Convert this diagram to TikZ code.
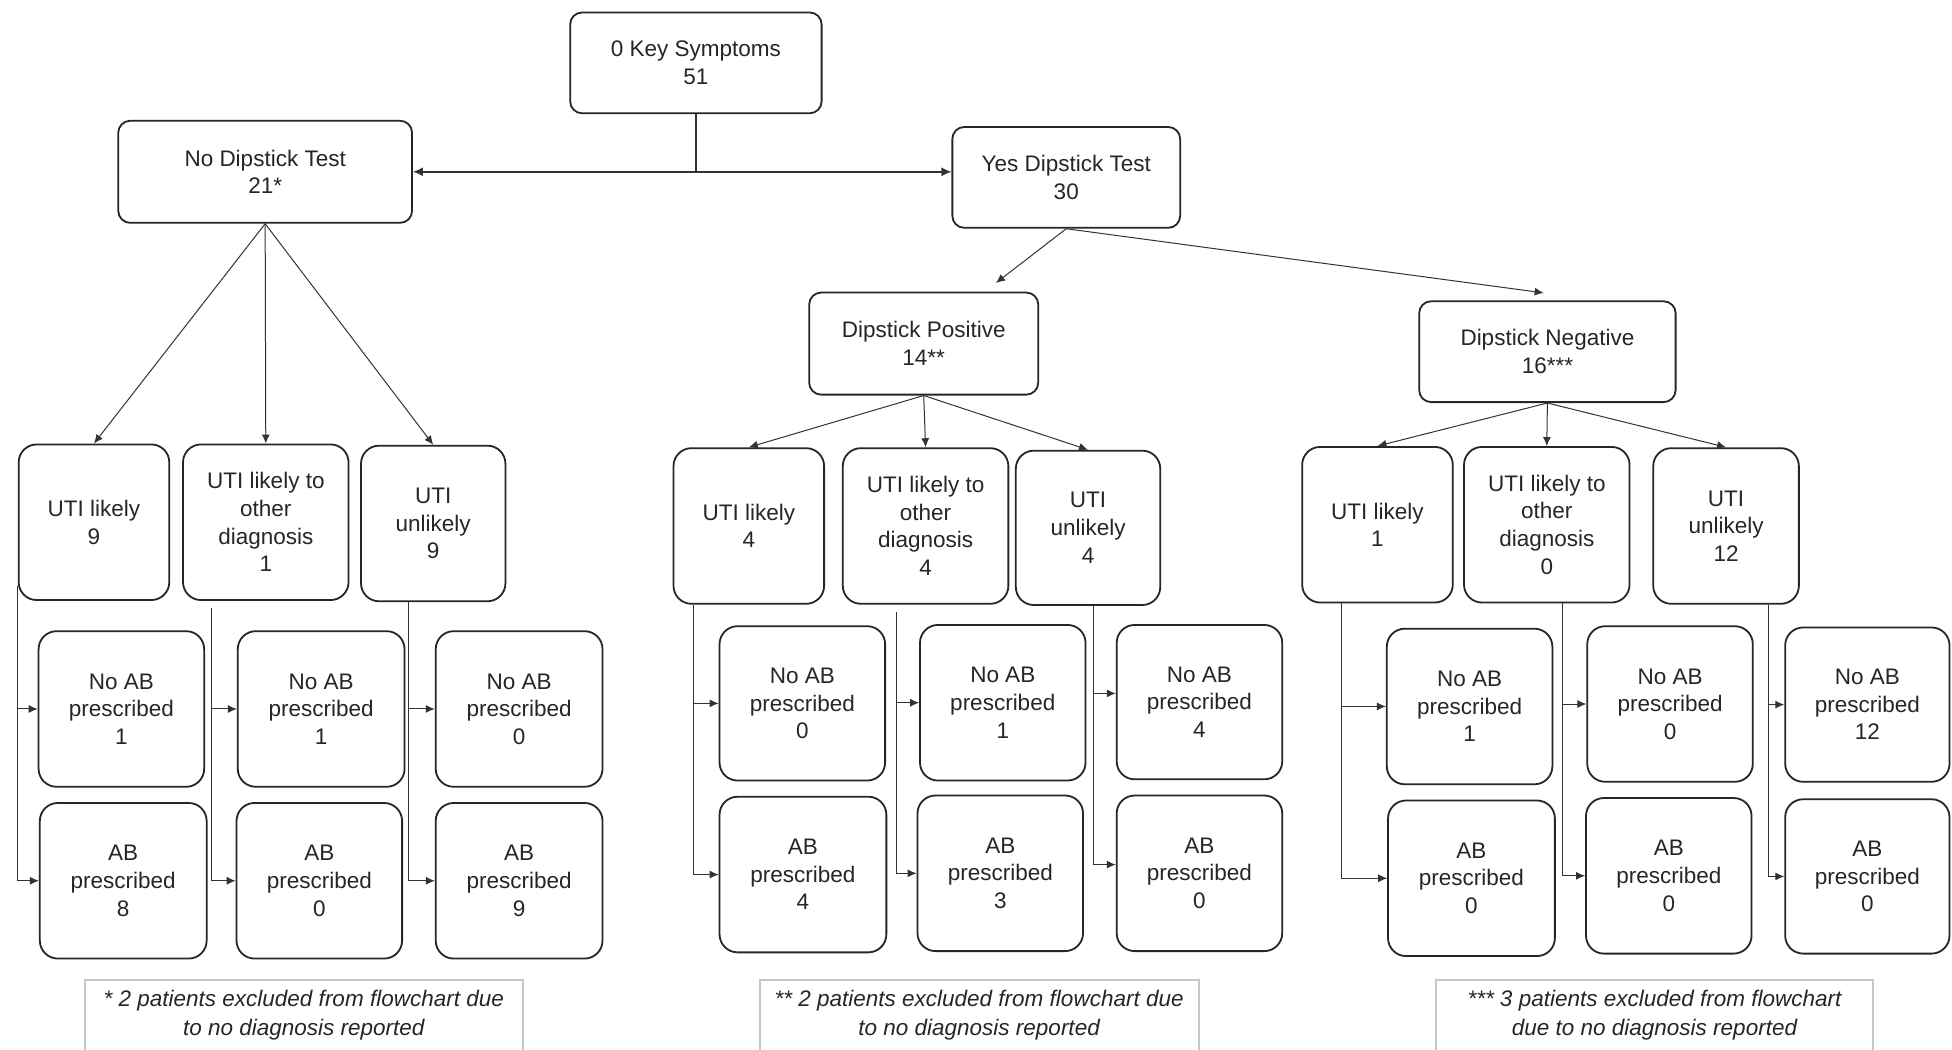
\documentclass[tikz,border=0pt]{standalone}
\usepackage{fontspec}
\setmainfont{Liberation Sans}
\usetikzlibrary{arrows.meta,calc}
\def\un{0.6224pt}
% #1 extra style, #2 name, #3 x1, #4 y1, #5 x2, #6 y2, #7 text
\newcommand{\mkbox}[7][]{%
  \node[bx,#1,minimum width={(#5-#3)*\un},minimum height={(#6-#4)*\un}] (#2) at ({(#3+#5)/2},{(#4+#6)/2}) {#7};}
\tikzset{
  bx/.style={draw=black!85, line width=0.9pt, rounded corners=9pt, fill=white,
    align=center, font=\fontsize{11.25}{13.8}\selectfont, text=black!85, inner sep=1pt},
  topbx/.style={rounded corners=6pt},
  fnote/.style={draw=none, align=center, font=\fontsize{11.25}{14.3}\selectfont\itshape, text=black!85, inner sep=1pt},
  fnline/.style={draw=black!22, line width=1pt},
  arr/.style={draw=black!80, line width=0.5pt, -{Latex[length=4.5pt,width=4pt]}},
  arrb/.style={draw=black!80, line width=0.7pt, -{Latex[length=5pt,width=4.5pt]}},
}
\begin{document}
\begin{tikzpicture}[x=0.6224pt,y=-0.6224pt]
\useasboundingbox[fill=white] (0,0) rectangle (1568,843);

% top level
\mkbox[topbx]{key}{458}{10}{660}{91}{0 Key Symptoms\\51}
\mkbox[topbx]{nodip}{95}{97}{331}{179}{No Dipstick Test\\21*}
\mkbox[topbx]{yesdip}{765}{102}{948}{183}{Yes Dipstick Test\\30}
\mkbox[topbx]{dippos}{650}{235}{834}{317}{Dipstick Positive\\14**}
\mkbox[topbx]{dipneg}{1140}{242}{1346}{323}{Dipstick Negative\\16***}

% left group
\mkbox{ul1}{15}{357}{136}{482}{UTI likely\\9}
\mkbox{uo1}{147}{357}{280}{482}{UTI likely to\\other\\diagnosis\\1}
\mkbox{un1}{290}{358}{406}{483}{UTI\\unlikely\\9}
\mkbox{n11}{31}{507}{164}{632}{No AB\\prescribed\\1}
\mkbox{a11}{32}{645}{166}{770}{AB\\prescribed\\8}
\mkbox{n12}{191}{507}{325}{632}{No AB\\prescribed\\1}
\mkbox{a12}{190}{645}{323}{770}{AB\\prescribed\\0}
\mkbox{n13}{350}{507}{484}{632}{No AB\\prescribed\\0}
\mkbox{a13}{350}{645}{484}{770}{AB\\prescribed\\9}

% middle group
\mkbox{ul2}{541}{360}{662}{485}{UTI likely\\4}
\mkbox{uo2}{677}{360}{810}{485}{UTI likely to\\other\\diagnosis\\4}
\mkbox{un2}{816}{362}{932}{486}{UTI\\unlikely\\4}
\mkbox{n21}{578}{503}{711}{627}{No AB\\prescribed\\0}
\mkbox{a21}{578}{640}{712}{765}{AB\\prescribed\\4}
\mkbox{n22}{739}{502}{872}{627}{No AB\\prescribed\\1}
\mkbox{a22}{737}{639}{870}{764}{AB\\prescribed\\3}
\mkbox{n23}{897}{502}{1030}{626}{No AB\\prescribed\\4}
\mkbox{a23}{897}{639}{1030}{764}{AB\\prescribed\\0}

% right group
\mkbox{ul3}{1046}{359}{1167}{484}{UTI likely\\1}
\mkbox{uo3}{1176}{359}{1309}{484}{UTI likely to\\other\\diagnosis\\0}
\mkbox{un3}{1328}{360}{1445}{485}{UTI\\unlikely\\12}
\mkbox{n31}{1114}{505}{1247}{630}{No AB\\prescribed\\1}
\mkbox{a31}{1115}{643}{1249}{768}{AB\\prescribed\\0}
\mkbox{n32}{1275}{503}{1408}{628}{No AB\\prescribed\\0}
\mkbox{a32}{1274}{641}{1407}{766}{AB\\prescribed\\0}
\mkbox{n33}{1434}{504}{1566}{628}{No AB\\prescribed\\12}
\mkbox{a33}{1434}{642}{1566}{766}{AB\\prescribed\\0}

% footnotes
\mkbox[fnote]{fn1}{69}{788}{419}{843}{* 2 patients excluded from flowchart due\\to no diagnosis reported}
\mkbox[fnote]{fn2}{611}{788}{962}{843}{** 2 patients excluded from flowchart due\\to no diagnosis reported}
\mkbox[fnote]{fn3}{1154}{788}{1504}{843}{*** 3 patients excluded from flowchart\\due to no diagnosis reported}
\foreach \f in {fn1,fn2,fn3}{
  \draw[fnline] ($(\f.south west)+(0,6)$) |- (\f.north east) -- ($(\f.south east)+(0,6)$);
}

% top connectors
\draw[arrb] (key.south) |- (nodip.east);
\draw[arrb] (key.south) |- (yesdip.west |- nodip.east);
\draw[arr] (yesdip.south) -- ($(dippos.north)+(58,-7)$);
\draw[arr] (yesdip.south) -- ($(dipneg.north)+(-3,-6)$);

% second level fan-outs
\foreach \t in {ul1,uo1,un1}{ \draw[arr] (nodip.south) -- (\t.north); }
\foreach \t in {ul2,uo2,un2}{ \draw[arr] (dippos.south) -- (\t.north); }
\foreach \t in {ul3,uo3,un3}{ \draw[arr] (dipneg.south) -- (\t.north); }

% bracket connectors
\draw[arr] ($(ul1.south west)+(0,-12)$) |- (n11.west);
\draw[arr] ($(ul1.south west)+(0,-12)$) |- (a11.west);
\draw[arr] ($(uo1.south west)+(24,6)$) |- (n12.west);
\draw[arr] ($(uo1.south west)+(24,6)$) |- (a12.west);
\draw[arr] ($(un1.south west)+(39,0)$) |- (n13.west);
\draw[arr] ($(un1.south west)+(39,0)$) |- (a13.west);

\draw[arr] ($(ul2.south west)+(17,0)$) |- (n21.west);
\draw[arr] ($(ul2.south west)+(17,0)$) |- (a21.west);
\draw[arr] ($(uo2.south west)+(44,6)$) |- (n22.west);
\draw[arr] ($(uo2.south west)+(44,6)$) |- (a22.west);
\draw[arr] ($(un2.south west)+(63,0)$) |- ($(n23.west)+(0,-7)$);
\draw[arr] ($(un2.south west)+(63,0)$) |- ($(a23.west)+(0,-7)$);

\draw[arr] ($(ul3.south west)+(32,0)$) |- (n31.west);
\draw[arr] ($(ul3.south west)+(32,0)$) |- (a31.west);
\draw[arr] ($(uo3.south west)+(80,0)$) |- (n32.west);
\draw[arr] ($(uo3.south west)+(80,0)$) |- (a32.west);
\draw[arr] ($(un3.south west)+(93,0)$) |- (n33.west);
\draw[arr] ($(un3.south west)+(93,0)$) |- (a33.west);
\end{tikzpicture}
\end{document}
